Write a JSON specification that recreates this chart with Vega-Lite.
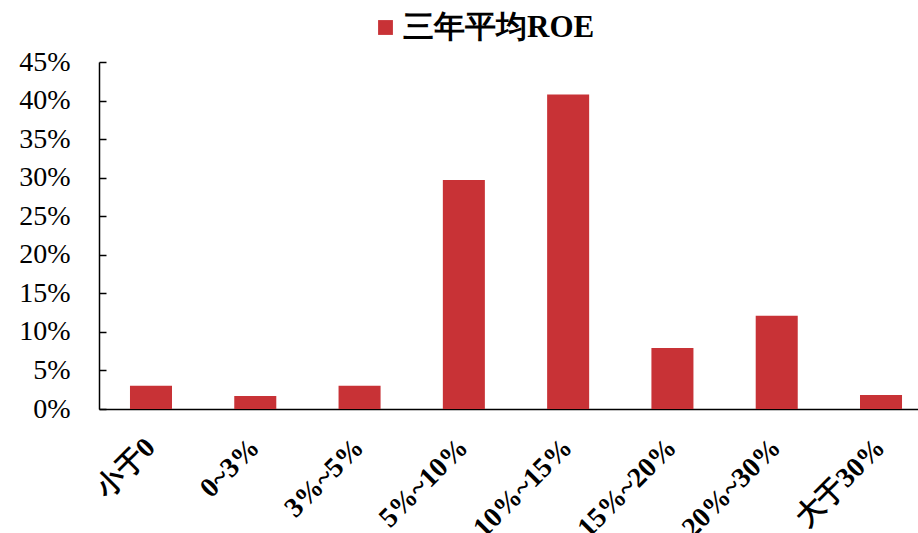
{
  "$schema": "https://vega.github.io/schema/vega-lite/v6.json",
  "width": 834,
  "height": 347,
  "autosize": {"type": "none"},
  "padding": {"left": 99, "top": 62, "right": 0, "bottom": 124},
  "background": "white",
  "data": {
    "values": [
      {"range": "小于0", "roe": 0.030, "series": "三年平均ROE"},
      {"range": "0~3%", "roe": 0.017, "series": "三年平均ROE"},
      {"range": "3%~5%", "roe": 0.030, "series": "三年平均ROE"},
      {"range": "5%~10%", "roe": 0.297, "series": "三年平均ROE"},
      {"range": "10%~15%", "roe": 0.408, "series": "三年平均ROE"},
      {"range": "15%~20%", "roe": 0.079, "series": "三年平均ROE"},
      {"range": "20%~30%", "roe": 0.121, "series": "三年平均ROE"},
      {"range": "大于30%", "roe": 0.018, "series": "三年平均ROE"}
    ]
  },
  "config": {
    "view": {"stroke": null},
    "axis": {"grid": false, "domainColor": "black", "domainWidth": 1.5, "tickColor": "black", "labelColor": "black"}
  },
  "mark": {"type": "bar"},
  "encoding": {
    "x": {
      "field": "range",
      "type": "nominal",
      "sort": null,
      "scale": {"paddingInner": 0.597, "paddingOuter": 0.297},
      "axis": {
        "title": null,
        "ticks": false,
        "labelAngle": -45,
        "labelAlign": "right",
        "labelBaseline": "middle",
        "labelFont": "Liberation Serif",
        "labelFontWeight": "bold",
        "labelFontSize": 28,
        "labelPadding": 34,
        "labelOverlap": false,
        "labelLimit": 0
      }
    },
    "y": {
      "field": "roe",
      "type": "quantitative",
      "scale": {"domain": [0, 0.45], "nice": false},
      "axis": {
        "title": null,
        "values": [0, 0.05, 0.1, 0.15, 0.2, 0.25, 0.3, 0.35, 0.4, 0.45],
        "format": ".0%",
        "tickSize": -7,
        "tickWidth": 1.5,
        "labelFont": "Liberation Serif",
        "labelFontSize": 28,
        "labelPadding": 36
      }
    },
    "color": {
      "field": "series",
      "type": "nominal",
      "scale": {"range": ["#C83236"]},
      "legend": {
        "title": null,
        "orient": "none",
        "legendX": 271,
        "legendY": -50,
        "padding": 0,
        "symbolType": "square",
        "symbolSize": 220,
        "symbolStrokeWidth": 0,
        "labelFont": "Liberation Serif",
        "labelFontWeight": "bold",
        "labelFontSize": 31,
        "labelColor": "black",
        "labelOffset": 2,
        "labelLimit": 0
      }
    }
  }
}
